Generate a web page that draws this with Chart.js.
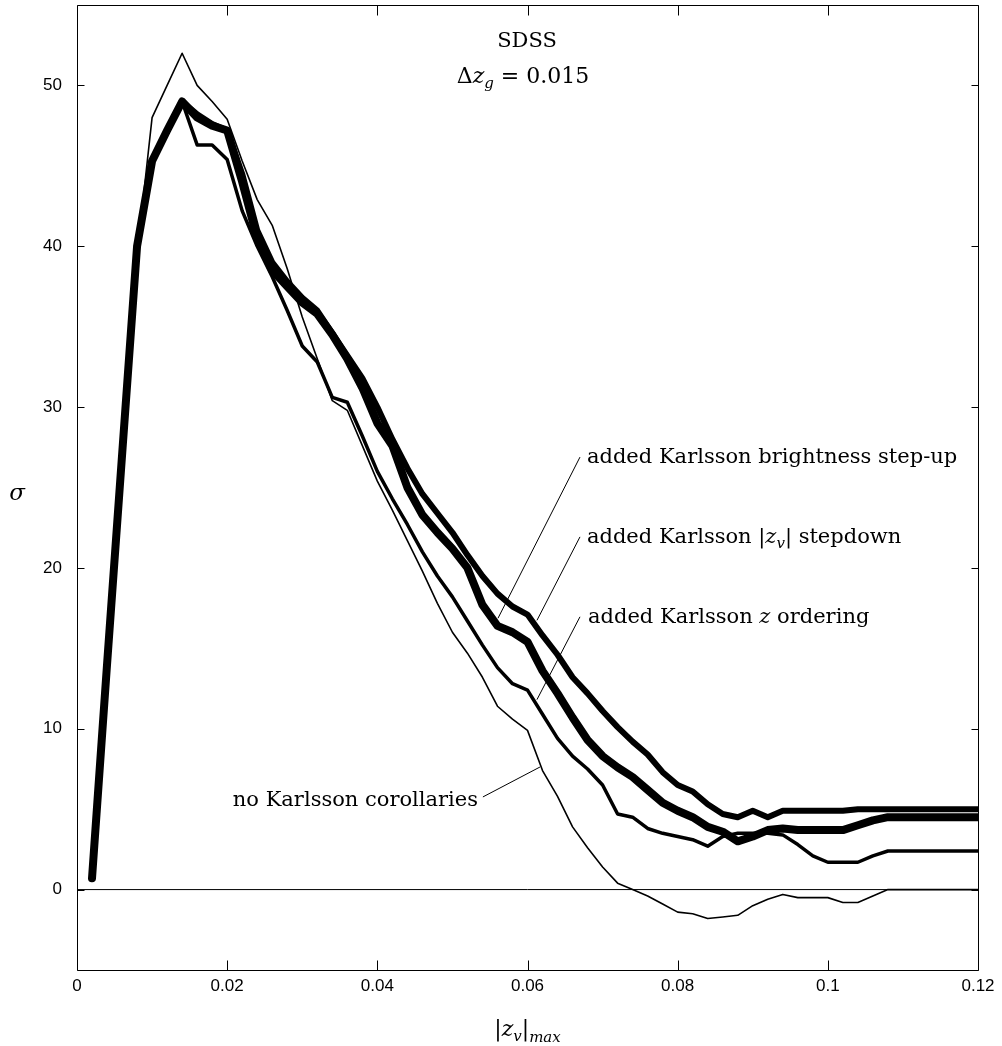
<!DOCTYPE html>
<html>
<head>
<meta charset="utf-8">
<script src="https://cdn.jsdelivr.net/npm/chart.js@4.4.0/dist/chart.umd.min.js"></script>
<style>
html,body{margin:0;padding:0;background:#fff;}
canvas{display:block;}
</style>
</head>
<body>
<canvas id="c" width="1002" height="1046"></canvas>
<script>
// ---------------- data ----------------
const zvMax = [0.002,0.004,0.006,0.008,0.010,0.012,0.014,0.016,0.018,0.020,
  0.022,0.024,0.026,0.028,0.030,0.032,0.034,0.036,0.038,0.040,
  0.042,0.044,0.046,0.048,0.050,0.052,0.054,0.056,0.058,0.060,
  0.062,0.064,0.066,0.068,0.070,0.072,0.074,0.076,0.078,0.080,
  0.082,0.084,0.086,0.088,0.090,0.092,0.094,0.096,0.098,0.100,
  0.102,0.104,0.106,0.108,0.110,0.112,0.114,0.116,0.118,0.120];

const sigmaNoKarlsson = [0.7,14.0,27.0,39.5,48.0,50.0,52.0,50.0,49.0,47.9,
  45.3,42.9,41.3,38.6,35.6,33.0,30.4,29.8,27.6,25.4,
  23.6,21.7,19.8,17.8,16.0,14.7,13.2,11.4,10.6,9.9,
  7.4,5.8,3.9,2.6,1.4,0.4,0.0,-0.4,-0.9,-1.4,
  -1.5,-1.8,-1.7,-1.6,-1.0,-0.6,-0.3,-0.5,-0.5,-0.5,
  -0.8,-0.8,-0.4,0.0,0.0,0.0,0.0,0.0,0.0,0.0];

const sigmaZOrdering = [0.7,14.0,27.0,40.0,45.5,47.3,49.0,46.3,46.3,45.4,
  42.2,40.0,38.1,36.0,33.8,32.8,30.6,30.3,28.2,26.0,
  24.3,22.7,21.0,19.5,18.2,16.7,15.2,13.8,12.8,12.4,
  10.9,9.4,8.3,7.5,6.5,4.7,4.5,3.8,3.5,3.3,
  3.1,2.7,3.3,3.5,3.5,3.5,3.4,2.8,2.1,1.7,
  1.7,1.7,2.1,2.4,2.4,2.4,2.4,2.4,2.4,2.4];

const sigmaZvStepdown = [0.7,14.0,27.0,40.0,45.3,47.2,49.0,48.2,47.6,47.2,
  44.5,41.0,39.0,37.8,36.8,36.0,34.6,33.2,31.8,30.0,
  28.0,26.2,24.6,23.4,22.2,20.8,19.5,18.4,17.6,17.1,
  15.8,14.6,13.2,12.2,11.1,10.1,9.2,8.4,7.3,6.5,
  6.1,5.3,4.7,4.5,4.9,4.5,4.9,4.9,4.9,4.9,
  4.9,5.0,5.0,5.0,5.0,5.0,5.0,5.0,5.0,5.0];

const sigmaBrightnessStepup = [0.7,14.0,27.0,40.0,45.3,47.2,49.0,48.0,47.5,47.2,
  44.0,40.5,38.5,37.5,36.5,35.8,34.5,33.0,31.2,29.0,
  27.6,25.0,23.3,22.2,21.2,20.0,17.7,16.4,16.0,15.4,
  13.6,12.2,10.7,9.3,8.3,7.6,7.0,6.2,5.4,4.9,
  4.5,3.9,3.6,3.0,3.3,3.7,3.8,3.7,3.7,3.7,
  3.7,4.0,4.3,4.5,4.5,4.5,4.5,4.5,4.5,4.5];

const zeroLineX = [0, 0.12];
const zeroLineY = [0, 0];

const xTicks = [0, 0.02, 0.04, 0.06, 0.08, 0.1, 0.12];
const xTickLabels = ['0', '0.02', '0.04', '0.06', '0.08', '0.1', '0.12'];
const yTicks = [0, 10, 20, 30, 40, 50];
const yTickLabels = ['0', '10', '20', '30', '40', '50'];

// annotation anchors in data units (x = |z_v|max, y = sigma)
const labelAnchors = {
  sdss:       [0.05993, 52.41],
  deltaZ:     [0.0594, 50.15],
  brightness: [0.06792, 26.52],
  stepdown:   [0.06792, 21.55],
  zorder:     [0.06806, 16.58],
  noKarlsson: [0.05341, 5.20]
};
const pointerLines = [
  [[0.06699, 26.89], [0.05607, 16.87]],
  [[0.06699, 21.93], [0.06126, 16.74]],
  [[0.06699, 16.96], [0.06126, 11.81]],
  [[0.05406, 5.76], [0.06166, 7.62]]
];

// ---------------- drawing ----------------
const SERIF = "'DejaVu Serif', serif";
const SANS = "'Liberation Sans', Arial, sans-serif";
const RM = '21px ' + SERIF;
const IT = 'italic 21px ' + SERIF;
const SUB = 'italic 15px ' + SERIF;

function pts(xs, ys) { return xs.map((x, i) => ({x: x, y: ys[i]})); }

function drawRuns(ctx, runs, x, y, align) {
  let w = 0;
  runs.forEach(r => { ctx.font = r[1]; r.w = ctx.measureText(r[0]).width; w += r.w; });
  let cx = align === 'center' ? x - w / 2 : (align === 'right' ? x - w : x);
  runs.forEach(r => { ctx.font = r[1]; ctx.fillText(r[0], cx, y + (r[2] || 0)); cx += r.w; });
}

const axesPlugin = {
  id: 'matlabAxes',
  afterDatasetsDraw(chart) {
    const ctx = chart.ctx, a = chart.chartArea, xs = chart.scales.x, ys = chart.scales.y;
    const P = (p) => [xs.getPixelForValue(p[0]), ys.getPixelForValue(p[1])];
    ctx.save();
    ctx.strokeStyle = '#000';
    ctx.fillStyle = '#000';
    ctx.lineWidth = 1;
    const L = Math.round(a.left) + 0.5, R = Math.round(a.right) + 0.5;
    const T = Math.round(a.top) + 0.5, B = Math.round(a.bottom) + 0.5;
    ctx.beginPath();
    ctx.rect(L, T, R - L, B - T);
    xTicks.forEach(v => {
      const px = Math.round(xs.getPixelForValue(v)) + 0.5;
      ctx.moveTo(px, B); ctx.lineTo(px, B - 10);
      ctx.moveTo(px, T); ctx.lineTo(px, T + 10);
    });
    yTicks.forEach(v => {
      const py = Math.round(ys.getPixelForValue(v)) + 0.5;
      ctx.moveTo(L, py); ctx.lineTo(L + 7, py);
      ctx.moveTo(R, py); ctx.lineTo(R - 7, py);
    });
    ctx.stroke();

    // pointer lines
    ctx.lineWidth = 1;
    ctx.beginPath();
    pointerLines.forEach(seg => {
      const p0 = P(seg[0]), p1 = P(seg[1]);
      ctx.moveTo(p0[0], p0[1]); ctx.lineTo(p1[0], p1[1]);
    });
    ctx.stroke();

    ctx.textBaseline = 'alphabetic';
    ctx.textAlign = 'left';
    let p;
    p = P(labelAnchors.sdss);
    drawRuns(ctx, [['SDSS', RM]], p[0], p[1], 'center');
    p = P(labelAnchors.deltaZ);
    drawRuns(ctx, [['\u0394', '22px ' + SERIF], ['z', 'italic 22px ' + SERIF], ['g', SUB, 5], [' = 0.015', '22px ' + SERIF]], p[0], p[1], 'center');
    p = P(labelAnchors.brightness);
    drawRuns(ctx, [['added Karlsson brightness step-up', RM]], p[0], p[1], 'left');
    p = P(labelAnchors.stepdown);
    drawRuns(ctx, [['added Karlsson |', RM], ['z', IT], ['v', SUB, 5], ['| stepdown', RM]], p[0], p[1], 'left');
    p = P(labelAnchors.zorder);
    drawRuns(ctx, [['added Karlsson ', RM], ['z', IT], [' ordering', RM]], p[0], p[1], 'left');
    p = P(labelAnchors.noKarlsson);
    drawRuns(ctx, [['no Karlsson corollaries', RM]], p[0], p[1], 'right');

    // axis titles
    const midX = (a.left + a.right) / 2;
    drawRuns(ctx, [['|', '22px ' + SERIF], ['z', 'italic 22px ' + SERIF], ['v', SUB, 5], ['|', '22px ' + SERIF], ['max', SUB, 6]], midX, a.bottom + 66, 'center');
    drawRuns(ctx, [['\u03C3', 'italic 23px ' + SERIF]], a.left - 60, (a.top + a.bottom) / 2 + 12, 'center');
    ctx.restore();
  }
};

const tickFont = {family: SANS, size: 17};

new Chart(document.getElementById('c'), {
  type: 'line',
  data: {
    datasets: [
      {label: 'zero', data: pts(zeroLineX, zeroLineY), borderColor: '#000', borderWidth: 1},
      {label: 'added Karlsson brightness step-up', data: pts(zvMax, sigmaBrightnessStepup), borderColor: '#000', borderWidth: 8},
      {label: 'added Karlsson |z_v| stepdown', data: pts(zvMax, sigmaZvStepdown), borderColor: '#000', borderWidth: 6},
      {label: 'added Karlsson z ordering', data: pts(zvMax, sigmaZOrdering), borderColor: '#000', borderWidth: 3.5},
      {label: 'no Karlsson corollaries', data: pts(zvMax, sigmaNoKarlsson), borderColor: '#000', borderWidth: 1.6}
    ]
  },
  options: {
    responsive: false,
    animation: false,
    events: [],
    layout: {padding: {top: 5, right: 24, left: 0, bottom: 0}},
    elements: {
      point: {radius: 0},
      line: {tension: 0, borderCapStyle: 'round', borderJoinStyle: 'round', fill: false}
    },
    plugins: {legend: {display: false}, tooltip: {enabled: false}},
    scales: {
      x: {
        type: 'linear', min: 0, max: 0.12,
        afterBuildTicks: s => { s.ticks = xTicks.map(v => ({value: v})); },
        afterFit: s => { s.height = 76; s.paddingLeft = 0; s.paddingRight = 0; },
        ticks: {
          callback: v => xTickLabels[xTicks.indexOf(v)],
          font: tickFont, color: '#000', padding: 6, maxRotation: 0, autoSkip: false
        },
        grid: {display: false, drawTicks: false},
        border: {display: false}
      },
      y: {
        type: 'linear', min: -5, max: 55,
        afterBuildTicks: s => { s.ticks = yTicks.map(v => ({value: v})); },
        afterFit: s => { s.width = 77; s.paddingTop = 0; s.paddingBottom = 0; },
        ticks: {
          callback: v => yTickLabels[yTicks.indexOf(v)],
          font: tickFont, color: '#000', padding: 15, autoSkip: false
        },
        grid: {display: false, drawTicks: false},
        border: {display: false}
      }
    }
  },
  plugins: [axesPlugin]
});
</script>
</body>
</html>
